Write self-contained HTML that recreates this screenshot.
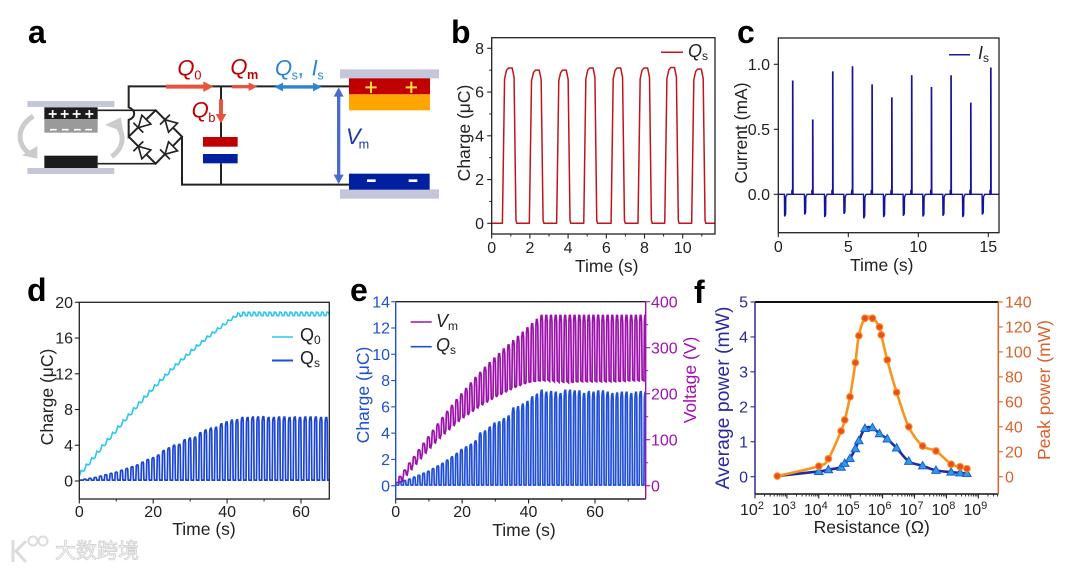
<!DOCTYPE html>
<html lang="en">
<head>
<meta charset="utf-8">
<title>Charging performance figure</title>
<style>
html,body{margin:0;padding:0;background:#fff;}
svg{display:block;filter:blur(.3px);font-family:"Liberation Sans","Noto Sans CJK SC",sans-serif;}
.t{font-size:16px;fill:#222;}
.at{font-size:17.5px;fill:#222;text-anchor:middle;}
.pl{font-size:32px;font-weight:bold;fill:#000;}
.lg{font-size:18px;fill:#222;}
.i{font-style:italic;}
</style>
</head>
<body>
<svg id="fig" width="1080" height="570" viewBox="0 0 1080 570" xmlns="http://www.w3.org/2000/svg">
<rect width="1080" height="570" fill="#fff"/>
<defs>
<clipPath id="clipB"><rect x="491.7" y="37.7" width="223.3" height="196.3"/></clipPath>
<clipPath id="clipC"><rect x="778.3" y="38" width="220.7" height="194.7"/></clipPath>
<clipPath id="clipD"><rect x="79.3" y="302.3" width="250" height="196.7"/></clipPath>
<clipPath id="clipE"><rect x="395.7" y="301.7" width="250" height="197.3"/></clipPath>
</defs>

<!-- panel letters -->
<text class="pl" x="28" y="43">a</text>
<text class="pl" x="451" y="43">b</text>
<text class="pl" x="737" y="43">c</text>
<text class="pl" x="27" y="301">d</text>
<text class="pl" x="350" y="301">e</text>
<text class="pl" x="694" y="303">f</text>

<!-- panel a : circuit schematic -->
<g transform="translate(0,10) scale(.33333)">
  <g fill="#c6c6da">
    <rect x="82" y="273" width="261" height="18"/><rect x="82" y="474" width="261" height="18"/>
    <rect x="1020" y="178" width="297" height="27"/><rect x="1020" y="538" width="297" height="28"/>
  </g>
  <g fill="none" stroke="#ccc" stroke-width="15">
    <path d="M100 318 C50 350 50 400 85 428"/>
    <path d="M335 440 C375 410 375 370 345 340"/>
  </g>
  <path d="M66 436 L112 408 L112 446 Z" fill="#ccc"/>
  <path d="M315 345 L362 322 L370 365 Z" fill="#ccc"/>
  <rect x="133" y="292" width="160" height="35" fill="#1c1c1c"/>
  <rect x="133" y="327" width="160" height="41" fill="#9a9a9a"/>
  <rect x="133" y="437" width="160" height="37" fill="#1c1c1c"/>
  <g stroke="#fff" stroke-width="5">
    <path d="M146 312h24M158 300v24M182 312h24M194 300v24M218 312h24M230 300v24M256 312h24M268 300v24"/>
    <path d="M150 359h20M186 359h20M222 359h20M256 359h20"/>
  </g>
  <g fill="none" stroke="#222" stroke-width="6">
    <path d="M1047 229 H386 V292 C408 300 408 322 386 330 V380 L467 301 L546 380 L467 461 L386 380"/>
    <path d="M293 301 H467 M293 461 H467" stroke-width="5"/>
    <path d="M546 380 V524 H1047"/>
    <path d="M663 229 V381 M663 460 V524"/>
  </g>
  <g fill="#fff" stroke="#222" stroke-width="5">
    <path d="M-17 -19 L-17 19 L17 0 Z M17 -21 V21" transform="translate(427,341) rotate(135)"/>
    <path d="M-17 -19 L-17 19 L17 0 Z M17 -21 V21" transform="translate(507,341) rotate(-135)"/>
    <path d="M-17 -19 L-17 19 L17 0 Z M17 -21 V21" transform="translate(427,421) rotate(-135)"/>
    <path d="M-17 -19 L-17 19 L17 0 Z M17 -21 V21" transform="translate(507,421) rotate(135)"/>
  </g>
  <rect x="609" y="381" width="104" height="29" fill="#c00000"/>
  <rect x="609" y="432" width="104" height="28" fill="#00209f"/>
  <rect x="1047" y="205" width="243" height="48" fill="#c00000"/>
  <rect x="1047" y="253" width="243" height="48" fill="#ffa500"/>
  <rect x="1047" y="491" width="242" height="48" fill="#00209f"/>
  <path d="M1096 232h34M1113 215v34M1217 232h34M1234 215v34" stroke="#ffe040" stroke-width="6"/>
  <path d="M1101 512h26M1226 512h26" stroke="#fff" stroke-width="8"/>
  <g>
    <path d="M498 224h112v-10l30 16-30 16v-10h-112z" fill="#e8533c"/>
    <path d="M696 225h50v-8l26 13-26 13v-8h-50z" fill="#e8533c"/>
    <path d="M657 268h12v44h10l-16 28-16-28h10z" fill="#e8533c"/>
    <path d="M823 231l26-13v8h90v-8l26 13-26 13v-8h-90v8z" fill="#2a86d2"/>
    <path d="M1016 232l15 28h-10v234h10l-15 28-15-28h10v-234h-10z" fill="#4a6cc8"/>
  </g>
  <text class="i" x="532" y="196" font-size="66" fill="#c00000">Q<tspan x="583" font-size="38" font-style="normal" dy="12">0</tspan></text>
  <text class="i" x="691" y="193" font-size="66" fill="#c00000">Q<tspan x="741" font-size="38" font-weight="bold" font-style="normal" dy="14">m</tspan></text>
  <text class="i" x="575" y="322" font-size="66" fill="#c00000">Q<tspan x="625" font-size="38" font-style="normal" dy="14">b</tspan></text>
  <text class="i" x="825" y="196" font-size="66" fill="#2a86d2">Q<tspan x="875" font-size="38" font-style="normal" dy="12">s</tspan><tspan x="893" dy="-12" font-style="normal">,</tspan><tspan x="935">I</tspan><tspan x="952" font-size="38" font-style="normal" dy="12">s</tspan></text>
  <text class="i" x="1038" y="402" font-size="66" fill="#1a3a9c">V<tspan x="1076" font-size="38" font-style="normal" dy="14">m</tspan></text>
</g>

<!-- axis titles -->
<text class="at" transform="translate(470,133) rotate(-90)">Charge (μC)</text>
<text class="at" x="606.7" y="272">Time (s)</text>
<text class="at" transform="translate(747,133) rotate(-90)">Current (mA)</text>
<text class="at" x="881.7" y="271">Time (s)</text>
<text class="at" transform="translate(53,397) rotate(-90)">Charge (μC)</text>
<text class="at" x="204" y="535">Time (s)</text>
<text class="at" style="fill:#2050d0" transform="translate(369,395) rotate(-90)">Charge (μC)</text>
<text class="at" style="fill:#a010b0" transform="translate(696,380) rotate(-90)">Voltage (V)</text>
<text class="at" x="524" y="536">Time (s)</text>
<text class="at" style="fill:#2a2a9c;font-size:19.4px" transform="translate(729,398) rotate(-90)">Average power (mW)</text>
<text class="at" style="fill:#d9622b" transform="translate(1050,390) rotate(-90)">Peak power (mW)</text>
<text class="at" x="871.7" y="533">Resistance (Ω)</text>

<!-- watermark -->
<g>
  <path d="M13 540v22M26 541l-10 10 10 11" fill="none" stroke="#dcdcdc" stroke-width="3"/>
  <circle cx="33" cy="541" r="4.5" fill="none" stroke="#dcdcdc" stroke-width="2"/>
  <circle cx="43" cy="541" r="4.5" fill="none" stroke="#dcdcdc" stroke-width="2"/>
  <text x="55" y="558" font-size="21" fill="#fff" stroke="#d4d4d4" stroke-width=".9">大数跨境</text>
</g>

<g id="plots"></g>

<!-- legends -->
<g>
  <line x1="661" x2="683" y1="52.3" y2="52.3" stroke="#c0141c" stroke-width="1.5"/>
  <text class="lg i" x="688" y="57">Q<tspan font-size="12" font-style="normal" dy="3">s</tspan></text>
</g>
<g>
  <line x1="949" x2="970" y1="54.7" y2="54.7" stroke="#1a1a9c" stroke-width="1.5"/>
  <text class="lg i" x="978" y="59">I<tspan font-size="12" font-style="normal" dy="3">s</tspan></text>
</g>
<g>
  <line x1="272" x2="293" y1="337" y2="337" stroke="#2cc6ee" stroke-width="1.6"/>
  <text class="lg" x="300" y="341">Q<tspan font-size="12" dy="3">0</tspan></text>
  <line x1="272" x2="293" y1="360.5" y2="360.5" stroke="#1f4fd8" stroke-width="2"/>
  <text class="lg" x="300" y="364">Q<tspan font-size="12" dy="3">s</tspan></text>
</g>
<g>
  <line x1="410.7" x2="431.7" y1="322" y2="322" stroke="#a010b0" stroke-width="1.6"/>
  <text class="lg i" x="436" y="327">V<tspan font-size="12" font-style="normal" dy="3">m</tspan></text>
  <line x1="410.7" x2="431.7" y1="346.7" y2="346.7" stroke="#1f4fd8" stroke-width="1.6"/>
  <text class="lg i" x="436" y="351">Q<tspan font-size="12" font-style="normal" dy="3">s</tspan></text>
</g>

<script>
/* ---------- panel b data ---------- */
var bRise = [0.56,1.97,3.40,4.82,6.25,7.66,9.06,10.47];
var bFall = [1.27,2.69,4.10,5.50,6.95,8.36,9.77,11.17];
var bPeak = [7.1,7.0,7.0,7.1,7.1,7.1,7.12,7.05];
var bXTicks = [0,2,4,6,8,10];
var bYTicks = [0,2,4,6,8];
/* ---------- panel c data ---------- */
var cPosTime = [1.02,2.45,3.88,5.29,6.69,8.10,9.52,10.93,12.33,13.74,15.17];
var cPosValue = [0.87,0.57,0.94,0.98,0.84,0.74,0.91,0.82,0.91,0.70,0.97];
var cNegTime = [0.45,1.88,3.31,4.69,6.10,7.52,8.93,10.33,11.76,13.17,14.57];
var cNegValue = [-0.17,-0.155,-0.175,-0.15,-0.185,-0.175,-0.165,-0.17,-0.165,-0.175,-0.155];
var cXTicks = [0,5,10,15];
var cYTicks = [0,0.5,1];
var cYLabels = ['0.0','0.5','1.0'];
/* ---------- panel d data ---------- */
var dCyclePeriod = 1.42;
var dQ0 = [0.5,1.2,1.9,2.6,3.35,4.05,4.75,5.45,6.15,6.85,7.5,8.2,8.85,9.5,10.15,10.75,11.35,11.95,12.55,13.1,13.65,14.15,14.7,15.2,15.7,16.2,16.65,17.1,17.55,18.0,18.4,18.5,18.5,18.5,18.5,18.5,18.5,18.5,18.5,18.5,18.5,18.5,18.5,18.5,18.5,18.5,18.5,18.5];
var dQs = [0.2,0.3,0.4,0.55,0.7,0.85,1.0,1.2,1.4,1.6,1.8,2.1,2.4,2.6,2.9,3.4,3.7,4.0,4.1,4.6,4.8,4.9,5.4,5.7,5.9,6.0,6.4,6.6,6.8,6.85,7.1,7.1,7.15,7.15,7.2,7.1,7.1,7.15,7.15,7.1,7.15,7.1,7.15,7.15,7.15,7.1,7.1];
var dXTicks = [0,20,40,60];
var dYTicks = [0,4,8,12,16,20];
/* ---------- panel e data ---------- */
var eCyclePeriod = 1.42;
var eQs = [0.3,0.4,0.5,0.65,0.8,0.95,1.1,1.3,1.5,1.7,1.95,2.2,2.45,2.75,2.95,3.15,3.4,4.0,4.15,4.45,4.75,4.85,5.1,5.3,5.9,6.0,6.2,6.4,6.75,6.95,7.25,7.1,7.15,7.1,7.0,7.25,7.25,7.2,7.2,7.0,7.15,7.1,7.2,7.2,7.1,7.0,7.05,7.1,7.1,7.0,7.1,7.15,7.1];
var eVmHigh = [20,34,49,63,78,92,106,120,134,148,161,174,187,199,211,223,235,246,257,267,277,287,297,306,315,324,333,343,352,361,370,370,370,370,370,370,370,370,370,370,370,370,370,370,370,370,370,370,370,370,370,370,370];
var eVmLow = [8,22,34,46,58,70,81,92,102,112,121,130,139,147,154,161,168,175,181,187,193,198,203,208,213,217,221,224,226,227,228,228,227,226,225,225,224,225,226,226,226,226,226,226,226,226,226,227,227,228,228,228,228];
var eXTicks = [0,20,40,60];
var eLeftTicks = [0,2,4,6,8,10,12,14];
var eRightTicks = [0,100,200,300,400];
/* ---------- panel f data ---------- */
var fPeakR = [5e2,1e4,2e4,5e4,6.5e4,9.5e4,1.4e5,1.8e5,2.8e5,4.8e5,8e5,9.1e5,1.4e6,2.75e6,6.6e6,1.8e7,4.7e7,1.4e8,2.7e8,4.4e8];
var fPeakPower = [0.5,8.5,14.4,36.6,45.5,64,91.4,113,127,127,120,113.6,93.6,67.6,40,24.6,20.6,10,8,6.4];
var fAvgR = [5e2,1e4,2e4,5e4,6.5e4,9.5e4,1.4e5,1.8e5,2.8e5,4.8e5,8e5,1.4e6,2.75e6,6.6e6,1.8e7,4.7e7,1.4e8,2.7e8,4.4e8];
var fAvgPower = [0.02,0.15,0.2,0.27,0.38,0.52,0.8,1.03,1.38,1.4,1.23,1.08,0.82,0.44,0.31,0.18,0.13,0.11,0.09];
var fExpTicks = [2,3,4,5,6,7,8,9];
var fLeftTicks = [0,1,2,3,4,5];
var fRightTicks = [0,20,40,60,80,100,120,140];

var NS = 'http://www.w3.org/2000/svg';
var plots = document.getElementById('plots');
function make(parent, tag, attrs, name, text) {
  var el = document.createElementNS(NS, tag);
  for (var k in attrs) el.setAttribute(k, attrs[k]);
  
  
  if (text !== undefined) el.textContent = text;
  parent.appendChild(el);
  return el;
}
function scale(d0, d1, r0, r1) {
  return function (v) { return r0 + (v - d0) * (r1 - r0) / (d1 - d0); };
}
function frame(g, l, t, r, b, name) {
  make(g, 'rect', {x: l, y: t, width: r - l, height: b - t, fill: 'none', stroke: '#222', 'stroke-width': 1.3}, name);
}
function xAxis(g, sx, base, ticks, minors, labels, name, labelY) {
  ticks.forEach(function (v, i) {
    make(g, 'line', {x1: sx(v), x2: sx(v), y1: base, y2: base + 4.5, stroke: '#222', 'stroke-width': 1.1}, name + '-tick');
    make(g, 'text', {x: sx(v), y: labelY, 'text-anchor': 'middle', class: 't'}, name + '-tick-label', labels ? labels[i] : String(v));
  });
  minors.forEach(function (v) {
    make(g, 'line', {x1: sx(v), x2: sx(v), y1: base, y2: base + 2.5, stroke: '#222', 'stroke-width': 1}, name + '-minor-tick');
  });
}
function yAxis(g, sy, pos, dir, ticks, minors, labels, name, color, labelX) {
  ticks.forEach(function (v, i) {
    make(g, 'line', {x1: pos, x2: pos + dir * 4.5, y1: sy(v), y2: sy(v), stroke: color, 'stroke-width': 1.1}, name + '-tick');
    make(g, 'text', {x: labelX, y: sy(v) + 5.6, 'text-anchor': dir < 0 ? 'end' : 'start', class: 't', style: 'fill:' + color}, name + '-tick-label', labels ? labels[i] : String(v));
  });
  minors.forEach(function (v) {
    make(g, 'line', {x1: pos, x2: pos + dir * 2.5, y1: sy(v), y2: sy(v), stroke: color, 'stroke-width': 1}, name + '-minor-tick');
  });
}
/* pulse trace from start/end/peak values */
function pulsePath(sx, sy, starts, ends, peaks, base, dEnd) {
  var d = 'M' + sx(0) + ' ' + sy(base);
  starts.forEach(function (s, i) {
    var e = ends[i], p = peaks[i], w = e - s;
    var pts = [[s, base], [s + 0.16 * w, base + 0.93 * (p - base)], [s + 0.3 * w, base + 0.985 * (p - base)],
               [s + 0.45 * w, p], [e - 0.28 * w, p], [e - 0.14 * w, base + 0.94 * (p - base)], [e, base + 0.02 * (p - base)], [e + 0.06 * w, base]];
    pts.forEach(function (q) { d += 'L' + sx(q[0]).toFixed(2) + ' ' + sy(q[1]).toFixed(2); });
  });
  return d + 'L' + sx(dEnd) + ' ' + sy(base);
}
function smoothPath(xs, ys) {
  var d = 'M' + xs[0].toFixed(2) + ' ' + ys[0].toFixed(2);
  for (var i = 0; i < xs.length - 1; i++) {
    var i0 = Math.max(i - 1, 0), i3 = Math.min(i + 2, xs.length - 1);
    var c1x = xs[i] + (xs[i + 1] - xs[i0]) / 6, c1y = ys[i] + (ys[i + 1] - ys[i0]) / 6;
    var c2x = xs[i + 1] - (xs[i3] - xs[i]) / 6, c2y = ys[i + 1] - (ys[i3] - ys[i]) / 6;
    d += 'C' + c1x.toFixed(2) + ' ' + c1y.toFixed(2) + ' ' + c2x.toFixed(2) + ' ' + c2y.toFixed(2) + ' ' + xs[i + 1].toFixed(2) + ' ' + ys[i + 1].toFixed(2);
  }
  return d;
}

/* ===== panel b ===== */
(function () {
  var g = make(plots, 'g', {}, 'charge-chart-b');
  var sx = scale(0, 10, 491.7, 682.7), sy = scale(0, 8, 223.3, 48.3);
  make(g, 'path', {d: pulsePath(sx, sy, bRise, bFall, bPeak, 0, 11.7), fill: 'none', stroke: '#c0141c', 'stroke-width': 1.5, 'clip-path': 'url(#clipB)', 'stroke-linejoin': 'round'}, 'qs-charge-line');
  frame(g, 491.7, 37.7, 715, 234, 'b-plot-frame');
  xAxis(g, sx, 234, bXTicks, [1, 3, 5, 7, 9, 11], null, 'b-x-axis', 253);
  yAxis(g, sy, 491.7, -1, bYTicks, [1, 3, 5, 7], null, 'b-y-axis', '#222', 484);
})();

/* ===== panel c ===== */
(function () {
  var g = make(plots, 'g', {}, 'current-chart-c');
  var sx = scale(0, 15, 778.3, 988.3), sy = scale(0, 1, 194.3, 64.3);
  var d = 'M' + sx(0) + ' ' + sy(0);
  var ev = [];
  cPosTime.forEach(function (t, i) { ev.push([t, cPosValue[i]]); });
  cNegTime.forEach(function (t, i) { ev.push([t, cNegValue[i]]); });
  ev.sort(function (a, b) { return a[0] - b[0]; });
  ev.forEach(function (e) {
    var x = sx(e[0]);
    if (e[1] > 0) {
      d += 'L' + (x - 0.8).toFixed(2) + ' ' + sy(0) + 'L' + (x - 0.7).toFixed(2) + ' ' + sy(0.03).toFixed(2) + 'L' + x.toFixed(2) + ' ' + sy(0.03).toFixed(2) + 'L' + x.toFixed(2) + ' ' + sy(e[1]).toFixed(2) + 'L' + (x + 0.3).toFixed(2) + ' ' + sy(e[1]).toFixed(2) + 'L' + (x + 0.5).toFixed(2) + ' ' + sy(0);
    } else {
      d += 'L' + (x - 0.2).toFixed(2) + ' ' + sy(0) + 'L' + x.toFixed(2) + ' ' + sy(e[1]).toFixed(2) + 'L' + (x + 1).toFixed(2) + ' ' + sy(e[1] * 0.9).toFixed(2) + 'L' + (x + 1.2).toFixed(2) + ' ' + sy(-0.02).toFixed(2) + 'L' + (x + 2.4).toFixed(2) + ' ' + sy(0);
    }
  });
  d += 'L' + sx(15.8) + ' ' + sy(0);
  make(g, 'path', {d: d, fill: 'none', stroke: '#14149a', 'stroke-width': 1.4, 'clip-path': 'url(#clipC)'}, 'is-current-line');
  frame(g, 778.3, 38, 999, 232.7, 'c-plot-frame');
  xAxis(g, sx, 232.7, cXTicks, [], null, 'c-x-axis', 252);
  yAxis(g, sy, 778.3, -1, cYTicks, [], cYLabels, 'c-y-axis', '#222', 770);
})();

/* ===== panel d ===== */
(function () {
  var g = make(plots, 'g', {}, 'charge-chart-d');
  var sx = scale(0, 60, 79.3, 301), sy = scale(0, 20, 481, 302.3);
  var d = '';
  dQ0.forEach(function (v, i) {
    var t = i * dCyclePeriod, next = i + 1 < dQ0.length ? dQ0[i + 1] : v;
    var rise = next - v;
    var P = dCyclePeriod;
    d += (i ? 'L' : 'M') + sx(t).toFixed(2) + ' ' + sy(v).toFixed(2);
    if (rise > 0.2) {
      d += 'L' + sx(t + 0.35 * P).toFixed(2) + ' ' + sy(v + rise * 0.85 + 0.1).toFixed(2) + 'L' + sx(t + 0.75 * P).toFixed(2) + ' ' + sy(v + rise * 0.85).toFixed(2);
    } else {
      d += 'L' + sx(t + 0.2 * P).toFixed(2) + ' ' + sy(v + 0.4).toFixed(2) + 'L' + sx(t + 0.5 * P).toFixed(2) + ' ' + sy(v + 0.35).toFixed(2) + 'L' + sx(t + 0.7 * P).toFixed(2) + ' ' + sy(v).toFixed(2);
    }
  });
  make(g, 'path', {d: d, fill: 'none', stroke: '#2cc6ee', 'stroke-width': 1.6, 'clip-path': 'url(#clipD)'}, 'q0-charge-line');
  var st = dQs.map(function (_, i) { return 1.1 + i * dCyclePeriod; });
  var en = st.map(function (s) { return s + 0.76; });
  make(g, 'path', {d: pulsePath(sx, sy, st, en, dQs, 0.1, 67.7), fill: 'none', stroke: '#1a44d4', 'stroke-width': 1.7, 'clip-path': 'url(#clipD)'}, 'qs-charge-line');
  frame(g, 79.3, 302.3, 329.3, 499, 'd-plot-frame');
  xAxis(g, sx, 499, dXTicks, [10, 30, 50], null, 'd-x-axis', 517);
  yAxis(g, sy, 79.3, -1, dYTicks, [], null, 'd-y-axis', '#222', 73);
})();

/* ===== panel e ===== */
(function () {
  var g = make(plots, 'g', {}, 'charge-voltage-chart-e');
  var sx = scale(0, 60, 395.7, 595), sq = scale(0, 14, 485.7, 301.7), sv = scale(0, 400, 485.7, 301.7);
  var st = eQs.map(function (_, i) { return 0.9 + i * eCyclePeriod; });
  var en = st.map(function (s) { return s + 0.78; });
  make(g, 'path', {d: pulsePath(sx, sq, st, en, eQs, 0.05, 75.5), fill: 'none', stroke: '#1f4fd8', 'stroke-width': 1.7, 'clip-path': 'url(#clipE)'}, 'qs-charge-line');
  var d = 'M' + sx(0) + ' ' + sv(5);
  st.forEach(function (s, i) {
    var hi = eVmHigh[i], lo = eVmLow[i], P = eCyclePeriod;
    var pts = [[s, lo], [s + 0.1 * P, hi * 0.97], [s + 0.2 * P, hi], [s + 0.38 * P, hi], [s + 0.5 * P, lo + (hi - lo) * 0.9], [s + 0.62 * P, lo + 2], [s + 0.8 * P, lo + 1]];
    pts.forEach(function (q) { d += 'L' + sx(q[0]).toFixed(2) + ' ' + sv(q[1]).toFixed(2); });
  });
  make(g, 'path', {d: d, fill: 'none', stroke: '#9c10ac', 'stroke-width': 1.7, 'clip-path': 'url(#clipE)'}, 'vm-voltage-line');
  make(g, 'line', {x1: 395.7, x2: 645.7, y1: 301.7, y2: 301.7, stroke: '#222', 'stroke-width': 1.4}, 'e-top-border');
  make(g, 'line', {x1: 395.7, x2: 645.7, y1: 499, y2: 499, stroke: '#222', 'stroke-width': 1.4}, 'e-bottom-border');
  make(g, 'line', {x1: 395.7, x2: 395.7, y1: 301.7, y2: 499, stroke: '#2050d0', 'stroke-width': 1.4}, 'e-left-border');
  make(g, 'line', {x1: 645.7, x2: 645.7, y1: 301.7, y2: 499, stroke: '#a010b0', 'stroke-width': 1.4}, 'e-right-border');
  xAxis(g, sx, 499, eXTicks, [10, 30, 50, 70], null, 'e-x-axis', 517);
  yAxis(g, sq, 395.7, -1, eLeftTicks, [], null, 'e-left-axis', '#2050d0', 390);
  yAxis(g, sv, 645.7, 1, eRightTicks, [50, 150, 250, 350], null, 'e-right-axis', '#a010b0', 651);
})();

/* ===== panel f ===== */
(function () {
  var g = make(plots, 'g', {}, 'power-chart-f');
  var lx = scale(2, 9, 755, 978.3), sx = function (r) { return lx(Math.log10(r)); };
  var sa = scale(0, 5, 476.7, 302), sp = scale(0, 140, 476.7, 302);
  make(g, 'line', {x1: 755, x2: 998.3, y1: 302, y2: 302, stroke: '#111', 'stroke-width': 2}, 'f-top-border');
  make(g, 'line', {x1: 755, x2: 998.3, y1: 494, y2: 494, stroke: '#111', 'stroke-width': 1.6}, 'f-bottom-border');
  make(g, 'line', {x1: 755, x2: 755, y1: 302, y2: 494, stroke: '#2a2a9c', 'stroke-width': 1.5}, 'f-left-border');
  make(g, 'line', {x1: 998.3, x2: 998.3, y1: 302, y2: 494, stroke: '#d9622b', 'stroke-width': 1.5}, 'f-right-border');
  fExpTicks.forEach(function (n) {
    var v = Math.pow(10, n);
    make(g, 'line', {x1: sx(v), x2: sx(v), y1: 494, y2: 498.5, stroke: '#222', 'stroke-width': 1.1}, 'f-x-axis-tick');
    var lab = make(g, 'text', {x: sx(v) - 3, y: 515, 'text-anchor': 'middle', class: 't'}, 'f-x-axis-tick-label', '10');
    make(lab, 'tspan', {dy: -6, 'font-size': 11}, 'f-x-axis-tick-exponent', String(n));
    for (var k = 2; k < 10; k++) {
      if (n + Math.log10(k) > 9.63) continue;
      make(g, 'line', {x1: sx(k * v), x2: sx(k * v), y1: 494, y2: 496.5, stroke: '#222', 'stroke-width': 0.9}, 'f-x-axis-minor-tick');
    }
  });
  yAxis(g, sa, 755, -1, fLeftTicks, [], null, 'f-left-axis', '#2a2a9c', 748);
  yAxis(g, sp, 998.3, 1, fRightTicks, [], null, 'f-right-axis', '#d9622b', 1005);
  make(g, 'path', {d: smoothPath(fAvgR.map(sx), fAvgPower.map(sa)), fill: 'none', stroke: '#1f2a9c', 'stroke-width': 2.6}, 'average-power-line');
  make(g, 'path', {d: smoothPath(fPeakR.map(sx), fPeakPower.map(sp)), fill: 'none', stroke: '#f7941d', 'stroke-width': 2.6}, 'peak-power-line');
  fAvgR.forEach(function (r, i) {
    if (i === 0) return;
    var x = sx(r), y = sa(fAvgPower[i]);
    make(g, 'path', {d: 'M' + x.toFixed(2) + ' ' + (y - 4.4).toFixed(2) + 'l4.2 7.4h-8.4z', fill: '#2f9be8', stroke: '#1a5fd0', 'stroke-width': 1}, 'average-power-point');
  });
  fPeakR.forEach(function (r, i) {
    make(g, 'circle', {cx: sx(r), cy: sp(fPeakPower[i]), r: 3.3, fill: '#ee4a23', stroke: '#f7941d', 'stroke-width': 1.1}, 'peak-power-point');
  });
})();
</script>
</svg>
</body>
</html>
